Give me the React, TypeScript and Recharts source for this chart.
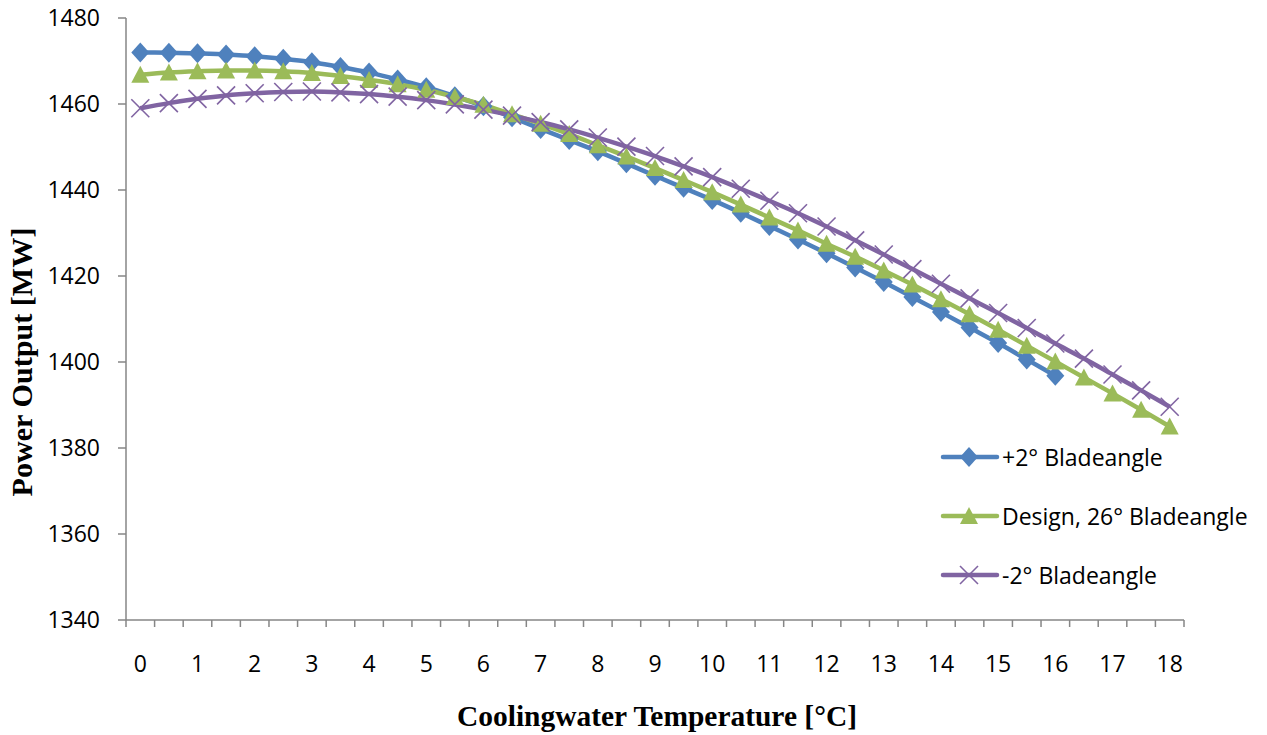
import React from 'react';
import { LineChart, Line, XAxis, YAxis } from 'recharts';

const temperatures = [0, 0.5, 1, 1.5, 2, 2.5, 3, 3.5, 4, 4.5, 5, 5.5, 6, 6.5, 7, 7.5, 8, 8.5, 9, 9.5, 10, 10.5, 11, 11.5, 12, 12.5, 13, 13.5, 14, 14.5, 15, 15.5, 16, 16.5, 17, 17.5, 18];

const plus2Blade = [1472.0, 1471.9, 1471.8, 1471.5, 1471.1, 1470.5, 1469.7, 1468.6, 1467.3, 1465.7, 1463.9, 1461.8, 1459.5, 1456.9, 1454.2, 1451.6, 1449.0, 1446.2, 1443.3, 1440.5, 1437.7, 1434.7, 1431.6, 1428.5, 1425.3, 1422.0, 1418.6, 1415.1, 1411.6, 1408.0, 1404.4, 1400.6, 1396.8];

const designBlade = [1466.8, 1467.3, 1467.6, 1467.8, 1467.8, 1467.6, 1467.2, 1466.5, 1465.6, 1464.6, 1463.3, 1461.6, 1459.8, 1457.6, 1455.4, 1453.0, 1450.4, 1447.8, 1445.1, 1442.3, 1439.5, 1436.6, 1433.6, 1430.6, 1427.5, 1424.5, 1421.3, 1418.0, 1414.6, 1411.1, 1407.5, 1403.8, 1400.1, 1396.4, 1392.7, 1388.9, 1385.0];

const minus2Blade = [1459.0, 1460.2, 1461.2, 1462.0, 1462.5, 1462.8, 1462.9, 1462.7, 1462.3, 1461.7, 1460.9, 1459.9, 1458.7, 1457.3, 1455.8, 1454.1, 1452.2, 1450.1, 1447.9, 1445.5, 1443.0, 1440.3, 1437.5, 1434.6, 1431.5, 1428.3, 1425.0, 1421.6, 1418.2, 1414.8, 1411.4, 1407.9, 1404.3, 1400.8, 1397.1, 1393.4, 1389.6];

const xTickLabels = [0, 1, 2, 3, 4, 5, 6, 7, 8, 9, 10, 11, 12, 13, 14, 15, 16, 17, 18];
const yTicks = [1340, 1360, 1380, 1400, 1420, 1440, 1460, 1480];

const seriesNames = ['+2° Bladeangle', 'Design, 26° Bladeangle', '-2° Bladeangle'];
const seriesColors = ['#4F81BD', '#9BBB59', '#8064A2'];

const data = temperatures.map((t, i) => ({
  t,
  plus2: plus2Blade[i] !== undefined ? plus2Blade[i] : null,
  design: designBlade[i],
  minus2: minus2Blade[i],
}));

// category boundaries (Excel puts tick marks between categories) + integer label positions
const boundaryTicks = [...temperatures.map((t) => t - 0.25), 18.25];
const xAxisTicks = [...boundaryTicks, ...xTickLabels].sort((a, b) => a - b);

const AXIS_GRAY = '#868686';
const TICK_FONT = '"Open Sans", sans-serif';
const TITLE_FONT = '"Liberation Serif", "Times New Roman", serif';
const TICK_SIZE = 23;

const XTick = (props: any) => {
  const { x, y, payload } = props;
  const v = payload.value;
  if (Number.isInteger(v)) {
    return (
      <text x={x} y={y + 52} textAnchor="middle" fontFamily={TICK_FONT} fontSize={TICK_SIZE} fill="#000">
        {v}
      </text>
    );
  }
  return <line x1={x} y1={y} x2={x} y2={y + 7} stroke={AXIS_GRAY} strokeWidth={1.5} />;
};

const YTick = (props: any) => {
  const { x, y, payload } = props;
  return (
    <text x={x} y={y} dy="0.36em" textAnchor="end" fontFamily={TICK_FONT} fontSize={TICK_SIZE} fill="#000">
      {payload.value}
    </text>
  );
};

const DiamondDot = (props: any) => {
  const { cx, cy, index } = props;
  if (cx == null || cy == null) return <g key={`d-${index}`} />;
  return (
    <polygon
      key={`d-${index}`}
      points={`${cx},${cy - 10} ${cx + 9},${cy} ${cx},${cy + 10} ${cx - 9},${cy}`}
      fill={seriesColors[0]}
    />
  );
};

const TriangleDot = (props: any) => {
  const { cx, cy, index } = props;
  if (cx == null || cy == null) return <g key={`t-${index}`} />;
  return (
    <polygon
      key={`t-${index}`}
      points={`${cx},${cy - 9} ${cx + 9},${cy + 8} ${cx - 9},${cy + 8}`}
      fill={seriesColors[1]}
    />
  );
};

const CrossDot = (props: any) => {
  const { cx, cy, index } = props;
  if (cx == null || cy == null) return <g key={`x-${index}`} />;
  return (
    <g key={`x-${index}`}>
      <line x1={cx - 9} y1={cy - 9} x2={cx + 9} y2={cy + 9} stroke={seriesColors[2]} strokeWidth={1.6} />
      <line x1={cx - 9} y1={cy + 9} x2={cx + 9} y2={cy - 9} stroke={seriesColors[2]} strokeWidth={1.6} />
    </g>
  );
};

const XTitle = () => (
  <text
    x={657}
    y={726}
    textAnchor="middle"
    fontFamily={TITLE_FONT}
    fontWeight="bold"
    fontSize={29}
    fill="#000"
    textLength={400}
    lengthAdjust="spacingAndGlyphs"
  >
    Coolingwater Temperature [°C]
  </text>
);

const YTitle = () => (
  <text
    x={32}
    y={362}
    transform="rotate(-90, 32, 362)"
    textAnchor="middle"
    fontFamily={TITLE_FONT}
    fontWeight="bold"
    fontSize={30}
    fill="#000"
    textLength={269}
    lengthAdjust="spacingAndGlyphs"
  >
    Power Output [MW]
  </text>
);

const LegendMarker = ({ i }: { i: number }) => {
  const c = seriesColors[i];
  return (
    <svg width={60} height={24} style={{ display: 'block' }}>
      <line x1={3} y1={12} x2={57} y2={12} stroke={c} strokeWidth={4.5} strokeLinecap="round" />
      {i === 0 && <polygon points="29,2 38,12 29,22 20,12" fill={c} />}
      {i === 1 && <polygon points="29,3 38,20 20,20" fill={c} />}
      {i === 2 && (
        <g>
          <line x1={20} y1={3} x2={38} y2={21} stroke={c} strokeWidth={1.6} />
          <line x1={20} y1={21} x2={38} y2={3} stroke={c} strokeWidth={1.6} />
        </g>
      )}
    </svg>
  );
};

export default function App() {
  return (
    <div style={{ position: 'absolute', left: 0, top: 0, width: 1267, height: 735, background: '#fff' }}>
      <LineChart width={1267} height={735} data={data} margin={{ top: 18, right: 83, bottom: 0, left: 0 }}>
        <XAxis
          dataKey="t"
          type="number"
          domain={[-0.25, 18.25]}
          ticks={xAxisTicks}
          interval={0}
          tickSize={0}
          tickMargin={0}
          tickLine={false}
          tick={<XTick />}
          axisLine={{ stroke: AXIS_GRAY, strokeWidth: 1.5 }}
          height={115}
          label={<XTitle />}
        />
        <YAxis
          type="number"
          domain={[1340, 1480]}
          ticks={yTicks}
          interval={0}
          width={126}
          tickSize={8}
          tickMargin={18}
          tickLine={{ stroke: AXIS_GRAY, strokeWidth: 1.5 }}
          axisLine={{ stroke: AXIS_GRAY, strokeWidth: 1.5 }}
          tick={<YTick />}
          label={<YTitle />}
        />
        <Line
          dataKey="plus2"
          name={seriesNames[0]}
          type="monotone"
          stroke={seriesColors[0]}
          strokeWidth={4.5}
          dot={DiamondDot}
          activeDot={false}
          isAnimationActive={false}
          connectNulls={false}
        />
        <Line
          dataKey="design"
          name={seriesNames[1]}
          type="monotone"
          stroke={seriesColors[1]}
          strokeWidth={4.5}
          dot={TriangleDot}
          activeDot={false}
          isAnimationActive={false}
        />
        <Line
          dataKey="minus2"
          name={seriesNames[2]}
          type="monotone"
          stroke={seriesColors[2]}
          strokeWidth={4.5}
          dot={CrossDot}
          activeDot={false}
          isAnimationActive={false}
        />
      </LineChart>
      <div style={{ position: 'absolute', left: 940, top: 427, width: 327 }}>
        {seriesNames.map((name, i) => (
          <div key={name} style={{ height: 59, display: 'flex', alignItems: 'center' }}>
            <LegendMarker i={i} />
            <span style={{ fontFamily: TICK_FONT, fontSize: TICK_SIZE, color: '#000', marginLeft: 2, whiteSpace: 'nowrap' }}>
              {name}
            </span>
          </div>
        ))}
      </div>
    </div>
  );
}
